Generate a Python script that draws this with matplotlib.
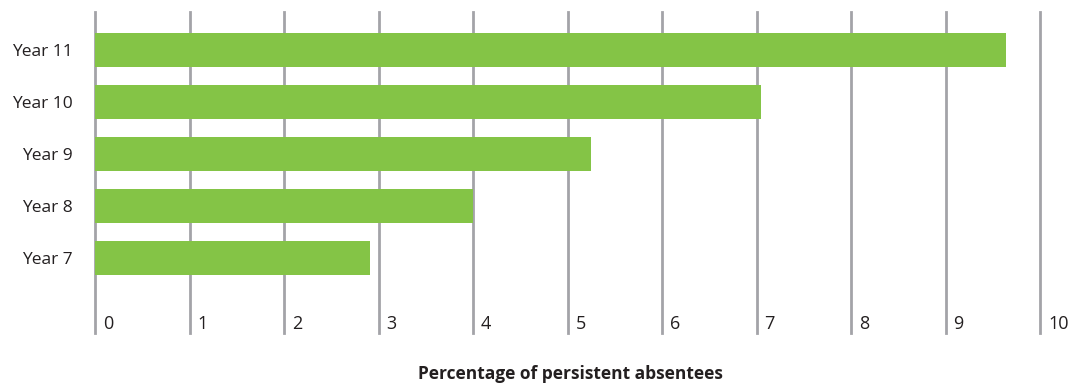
import matplotlib

matplotlib.use("Agg")
import matplotlib.pyplot as plt
import matplotlib.transforms as mtransforms

# Persistent absentees by year group (%)
years = ["Year 7", "Year 8", "Year 9", "Year 10", "Year 11"]
pct = [2.91, 4.0, 5.25, 7.05, 9.64]
ticks = list(range(0, 11))

BAR = "#84c446"
GRID = "#a3a3a8"
TEXT = "#231f20"

plt.rcParams["font.family"] = ["Open Sans", "DejaVu Sans"]

W, H = 1082, 385
fig = plt.figure(figsize=(W / 100, H / 100), dpi=100)
ax = fig.add_axes([95 / W, 1 - 333 / H, (1040 - 95) / W, (333 - 12) / H])

ypos = list(range(len(years)))
ax.barh(ypos, pct, height=0.65, color=BAR, zorder=2)

for t in ticks:
    ax.axvline(t, color=GRID, lw=2.0, zorder=1, clip_on=False)

ax.set_xlim(0, 10)
ax.set_ylim(-1.44, 4.73)
ax.set_xticks([])
ax.set_yticks(ypos)
ax.set_yticklabels(years, fontsize=12.5, color=TEXT)
ax.tick_params(axis="y", length=0, pad=16)
for s in ax.spines.values():
    s.set_visible(False)

# value labels sit just right of each gridline near the bottom
tr = mtransforms.offset_copy(ax.get_xaxis_transform(), fig=fig, x=8, y=0, units="dots")
for t in ticks:
    ax.text(t, 0.0, str(t), transform=tr, ha="left", va="bottom",
            fontsize=13, color=TEXT)

fig.text(570 / W, 1 - 374 / H, "Percentage of persistent absentees",
         ha="center", va="center", fontsize=12.5, fontweight="bold", color=TEXT)

fig.savefig("out.png", dpi=100)
